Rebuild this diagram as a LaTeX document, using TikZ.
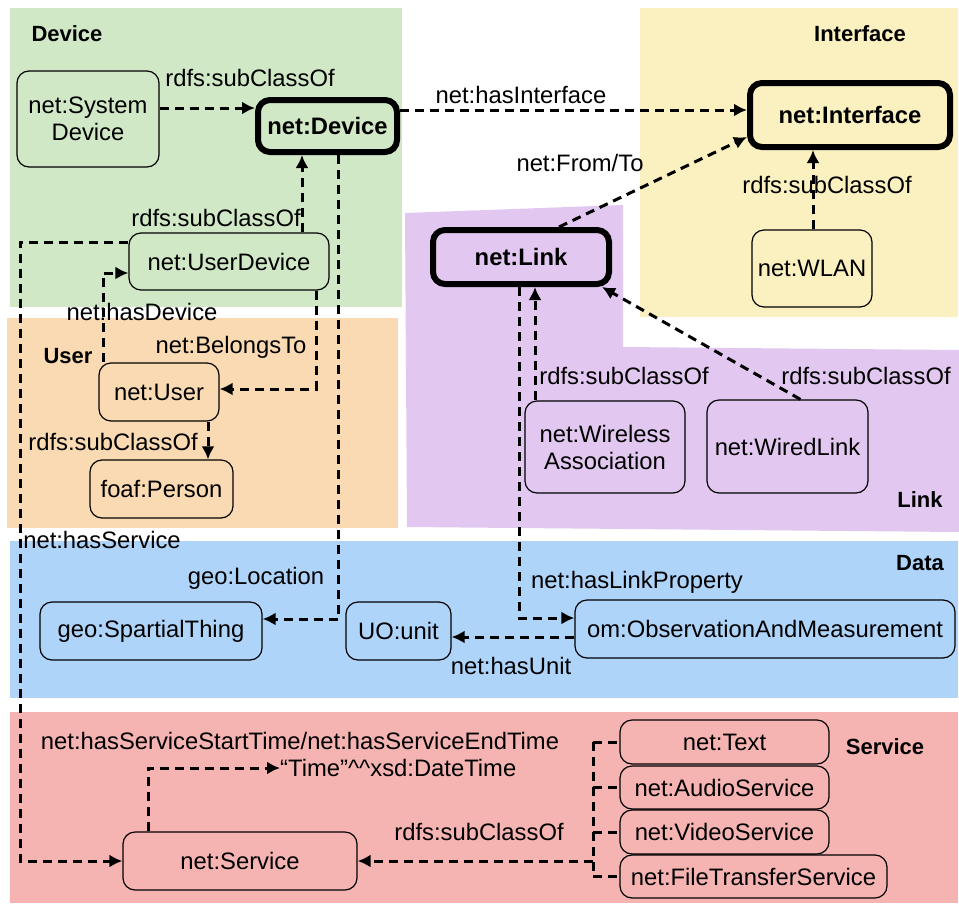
\documentclass[tikz,border=0pt]{standalone}
\usepackage{fontspec}
\setmainfont{Liberation Sans}
\usetikzlibrary{arrows.meta,calc}
\definecolor{cgreen}{RGB}{208,232,198}
\definecolor{cyellow}{RGB}{251,240,192}
\definecolor{corange}{RGB}{250,218,178}
\definecolor{cpurple}{RGB}{226,200,240}
\definecolor{cblue}{RGB}{174,212,250}
\definecolor{cred}{RGB}{245,180,178}
\newcommand{\lblfont}{\fontsize{23.8}{27}\selectfont}
\newcommand{\ttlfont}{\fontsize{22}{26}\selectfont\bfseries}
\tikzset{
  box/.style={draw, line width=1.2pt, rounded corners=12pt, inner sep=2pt, align=center, font=\lblfont},
  bigbox/.style={draw, line width=6pt, rounded corners=12pt, inner sep=2pt, align=center, font=\lblfont\bfseries},
  conn/.style={line width=3pt, dash pattern=on 9pt off 6pt, -{Latex[length=13pt,width=13pt]}},
  bus/.style={line width=3pt, dash pattern=on 9pt off 6pt},
  lbl/.style={font=\lblfont, inner sep=0pt},
  ttl/.style={font=\ttlfont, inner sep=0pt}
}
\begin{document}
\begin{tikzpicture}[x=1pt,y=-1pt]
\useasboundingbox (0,0) rectangle (959,903);
\fill[white] (0,0) rectangle (959,903);
% regions
\fill[cgreen] (10,8) rectangle (402,307);
\fill[cyellow] (640,8) rectangle (958,317);
\fill[corange] (7,318) rectangle (398,528);
\fill[cpurple] (405,213) -- (623,205) -- (623,347) -- (959,350) -- (959,532) -- (407,527) -- cycle;
\fill[cblue] (10,541) rectangle (958,698);
\fill[cred] (10,712) rectangle (958,903);
% titles
\node[ttl] (tdevice) at (67,34) {Device};
\node[ttl] (tiface) at (860,34) {Interface};
\node[ttl] (tuser) at (68,356) {User};
\node[ttl] (tlink) at (920,500) {Link};
\node[ttl] (tdata) at (920,563) {Data};
\node[ttl] (tservice) at (885,747) {Service};
% nodes
\node[bigbox, fill=cgreen, minimum width=139pt, minimum height=52pt] (dev) at (327.5,126) {net:Device};
\node[bigbox, fill=cyellow, minimum width=200pt, minimum height=64pt] (iface) at (850,115) {net:Interface};
\node[bigbox, fill=cpurple, minimum width=176pt, minimum height=54pt] (link) at (521,257) {net:Link};
\node[box, fill=cgreen, minimum width=142pt, minimum height=96pt] (sysdev) at (88,119) {net:System\\Device};
\node[box, fill=cgreen, minimum width=200pt, minimum height=57pt] (userdev) at (229,261.5) {net:UserDevice};
\node[box, fill=corange, minimum width=120pt, minimum height=58pt] (user) at (159,392) {net:User};
\node[box, fill=corange, minimum width=143pt, minimum height=58pt] (person) at (161.5,489) {foaf:Person};
\node[box, fill=cyellow, minimum width=120pt, minimum height=77pt] (wlan) at (812,268.5) {net:WLAN};
\node[box, fill=cpurple, minimum width=160pt, minimum height=92pt] (wa) at (605,447) {net:Wireless\\Association};
\node[box, fill=cpurple, minimum width=161pt, minimum height=93pt] (wired) at (787.5,446.5) {net:WiredLink};
\node[box, fill=cblue, minimum width=222pt, minimum height=58pt] (spatial) at (151,631) {geo:SpartialThing};
\node[box, fill=cblue, minimum width=105pt, minimum height=58pt] (unit) at (398.5,631) {UO:unit};
\node[box, fill=cblue, minimum width=380pt, minimum height=58pt] (om) at (765,629) {om:ObservationAndMeasurement};
\node[box, fill=cred, minimum width=234pt, minimum height=58pt] (service) at (240,861) {net:Service};
\node[box, fill=cred, minimum width=209pt, minimum height=44pt] (text) at (724.5,742) {net:Text};
\node[box, fill=cred, minimum width=209pt, minimum height=43pt] (audio) at (724.5,787.5) {net:AudioService};
\node[box, fill=cred, minimum width=209pt, minimum height=44pt] (video) at (724.5,832) {net:VideoService};
\node[box, fill=cred, minimum width=267pt, minimum height=43pt] (fts) at (753.5,876.5) {net:FileTransferService};
\node[lbl, anchor=west] (time) at (280,768) {“Time”\textasciicircum\textasciicircum xsd:DateTime};
% edge labels
\node[lbl] (l1) at (250,78) {rdfs:subClassOf};
\node[lbl] (l2) at (521,95) {net:hasInterface};
\node[lbl] (l3) at (580,163) {net:From/To};
\node[lbl] (l4) at (827,185) {rdfs:subClassOf};
\node[lbl] (l5) at (216,218) {rdfs:subClassOf};
\node[lbl] (l6) at (142,312) {net:hasDevice};
\node[lbl] (l7) at (231,347) {net:BelongsTo};
\node[lbl] (l8) at (113,442) {rdfs:subClassOf};
\node[lbl] (l9) at (102,540) {net:hasService};
\node[lbl] (l10) at (256,578) {geo:Location};
\node[lbl] (l11) at (637,582) {net:hasLinkProperty};
\node[lbl] (l12) at (511,666) {net:hasUnit};
\node[lbl] (l13) at (624,376) {rdfs:subClassOf};
\node[lbl] (l14) at (866,376) {rdfs:subClassOf};
\node[lbl] (l15) at (300,741) {net:hasServiceStartTime/net:hasServiceEndTime};
\node[lbl] (l16) at (479,832) {rdfs:subClassOf};
% connectors
\draw[conn] ([yshift=11pt]sysdev.east) -- ([yshift=18pt]dev.west);
\draw[conn] ([yshift=16pt]dev.east) -- ([yshift=5pt]iface.west);
\draw[conn] ([xshift=38pt]link.north) -- ([yshift=-22pt]iface.west);
\coordinate (wl) at ([xshift=1pt]wlan.north);
\draw[conn] (wl) -- (wl |- iface.south);
\coordinate (ud) at ([xshift=73pt]userdev.north);
\draw[conn] (ud) -- (ud |- dev.south);
\draw[conn] ([xshift=11pt]dev.south) |- ([yshift=12pt]spatial.east);
\draw[conn] ([xshift=87pt]userdev.south) |- ([yshift=3pt]user.east);
\draw[conn] ([xshift=-56pt]user.north) |- ([yshift=-11.5pt]userdev.west);
\coordinate (up) at ([xshift=49pt]user.south);
\draw[conn] (up) -- (up |- person.north);
\coordinate (hsx) at (20,0);
\draw[conn] ([yshift=19pt]userdev.west) -| (hsx |- service.west) -- (service.west);
\draw[conn] ([xshift=-2pt]link.south) |- ([yshift=11pt]om.west);
\coordinate (wap) at ([xshift=-70pt]wa.north);
\draw[conn] (wap) -- (wap |- link.south);
\draw[conn] ([xshift=13pt]wired.north) -- ([xshift=-10pt]link.south east);
\coordinate (omw) at ([yshift=-8pt]om.west);
\draw[conn] (omw) -- (unit.east |- omw);
\draw[conn] ([xshift=-92pt]service.north) |- (time.west);
\coordinate (bus) at (593,0);
\draw[bus] (bus |- text.west) -- (bus |- fts.west);
\draw[bus] (bus |- text.west) -- (text.west);
\draw[bus] (bus |- audio.west) -- (audio.west);
\draw[bus] (bus |- video.west) -- (video.west);
\draw[bus] (bus |- fts.west) -- (fts.west);
\draw[conn] (bus |- service.east) -- (service.east);
\end{tikzpicture}
\end{document}
